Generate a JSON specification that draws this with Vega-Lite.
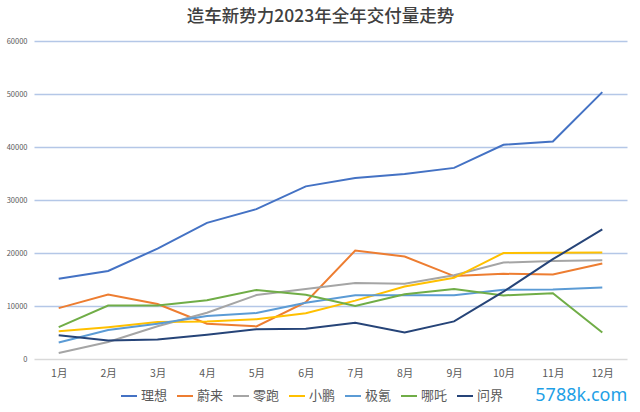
{
  "$schema": "https://vega.github.io/schema/vega-lite/v6.json",
  "width": 593,
  "height": 318,
  "autosize": {"type": "none"},
  "padding": {"left": 34, "top": 41, "right": 13, "bottom": 53},
  "background": "white",
  "title": {
    "text": "造车新势力2023年全年交付量走势",
    "font": "\"Noto Sans CJK SC\", sans-serif",
    "fontSize": 17.5,
    "fontWeight": 500,
    "color": "#404040",
    "anchor": "middle",
    "dx": -10,
    "offset": 12
  },
  "config": {
    "view": {"stroke": null},
    "font": "\"Noto Sans CJK SC\", sans-serif"
  },
  "layer": [
    {
      "data": {
        "values": [
          {"month": "1月", "brand": "理想", "value": 15141}, {"month": "2月", "brand": "理想", "value": 16620}, {"month": "3月", "brand": "理想", "value": 20823}, {"month": "4月", "brand": "理想", "value": 25681}, {"month": "5月", "brand": "理想", "value": 28277}, {"month": "6月", "brand": "理想", "value": 32575}, {"month": "7月", "brand": "理想", "value": 34134}, {"month": "8月", "brand": "理想", "value": 34914}, {"month": "9月", "brand": "理想", "value": 36060}, {"month": "10月", "brand": "理想", "value": 40422}, {"month": "11月", "brand": "理想", "value": 41030}, {"month": "12月", "brand": "理想", "value": 50353},
          {"month": "1月", "brand": "蔚来", "value": 9600}, {"month": "2月", "brand": "蔚来", "value": 12157}, {"month": "3月", "brand": "蔚来", "value": 10378}, {"month": "4月", "brand": "蔚来", "value": 6658}, {"month": "5月", "brand": "蔚来", "value": 6155}, {"month": "6月", "brand": "蔚来", "value": 10707}, {"month": "7月", "brand": "蔚来", "value": 20462}, {"month": "8月", "brand": "蔚来", "value": 19329}, {"month": "9月", "brand": "蔚来", "value": 15641}, {"month": "10月", "brand": "蔚来", "value": 16074}, {"month": "11月", "brand": "蔚来", "value": 15959}, {"month": "12月", "brand": "蔚来", "value": 18012},
          {"month": "1月", "brand": "零跑", "value": 1139}, {"month": "2月", "brand": "零跑", "value": 3198}, {"month": "3月", "brand": "零跑", "value": 6168}, {"month": "4月", "brand": "零跑", "value": 8726}, {"month": "5月", "brand": "零跑", "value": 12058}, {"month": "6月", "brand": "零跑", "value": 13209}, {"month": "7月", "brand": "零跑", "value": 14335}, {"month": "8月", "brand": "零跑", "value": 14190}, {"month": "9月", "brand": "零跑", "value": 15800}, {"month": "10月", "brand": "零跑", "value": 18202}, {"month": "11月", "brand": "零跑", "value": 18508}, {"month": "12月", "brand": "零跑", "value": 18618},
          {"month": "1月", "brand": "小鹏", "value": 5218}, {"month": "2月", "brand": "小鹏", "value": 6010}, {"month": "3月", "brand": "小鹏", "value": 7002}, {"month": "4月", "brand": "小鹏", "value": 7079}, {"month": "5月", "brand": "小鹏", "value": 7506}, {"month": "6月", "brand": "小鹏", "value": 8620}, {"month": "7月", "brand": "小鹏", "value": 11008}, {"month": "8月", "brand": "小鹏", "value": 13690}, {"month": "9月", "brand": "小鹏", "value": 15310}, {"month": "10月", "brand": "小鹏", "value": 20002}, {"month": "11月", "brand": "小鹏", "value": 20041}, {"month": "12月", "brand": "小鹏", "value": 20115},
          {"month": "1月", "brand": "极氪", "value": 3116}, {"month": "2月", "brand": "极氪", "value": 5455}, {"month": "3月", "brand": "极氪", "value": 6663}, {"month": "4月", "brand": "极氪", "value": 8101}, {"month": "5月", "brand": "极氪", "value": 8678}, {"month": "6月", "brand": "极氪", "value": 10620}, {"month": "7月", "brand": "极氪", "value": 12039}, {"month": "8月", "brand": "极氪", "value": 12023}, {"month": "9月", "brand": "极氪", "value": 12011}, {"month": "10月", "brand": "极氪", "value": 13077}, {"month": "11月", "brand": "极氪", "value": 13104}, {"month": "12月", "brand": "极氪", "value": 13476},
          {"month": "1月", "brand": "哪吒", "value": 6016}, {"month": "2月", "brand": "哪吒", "value": 10073}, {"month": "3月", "brand": "哪吒", "value": 10109}, {"month": "4月", "brand": "哪吒", "value": 11080}, {"month": "5月", "brand": "哪吒", "value": 13029}, {"month": "6月", "brand": "哪吒", "value": 12132}, {"month": "7月", "brand": "哪吒", "value": 10017}, {"month": "8月", "brand": "哪吒", "value": 12207}, {"month": "9月", "brand": "哪吒", "value": 13208}, {"month": "10月", "brand": "哪吒", "value": 12000}, {"month": "11月", "brand": "哪吒", "value": 12400}, {"month": "12月", "brand": "哪吒", "value": 5000},
          {"month": "1月", "brand": "问界", "value": 4475}, {"month": "2月", "brand": "问界", "value": 3505}, {"month": "3月", "brand": "问界", "value": 3679}, {"month": "4月", "brand": "问界", "value": 4585}, {"month": "5月", "brand": "问界", "value": 5629}, {"month": "6月", "brand": "问界", "value": 5701}, {"month": "7月", "brand": "问界", "value": 6850}, {"month": "8月", "brand": "问界", "value": 5018}, {"month": "9月", "brand": "问界", "value": 7088}, {"month": "10月", "brand": "问界", "value": 12700}, {"month": "11月", "brand": "问界", "value": 18827}, {"month": "12月", "brand": "问界", "value": 24468}
        ]
      },
      "mark": {"type": "line", "strokeWidth": 2},
      "encoding": {
        "x": {
          "field": "month",
          "type": "ordinal",
          "scale": {"type": "point", "padding": 0.5, "domain": ["1月","2月","3月","4月","5月","6月","7月","8月","9月","10月","11月","12月"]},
          "axis": {
            "title": null,
            "labelAngle": 0,
            "labelFontSize": 10.5,
            "labelColor": "#595959",
            "labelPadding": 9,
            "ticks": false,
            "domain": false,
            "grid": false
          }
        },
        "y": {
          "field": "value",
          "type": "quantitative",
          "scale": {"domain": [0, 60000], "nice": false},
          "axis": {
            "title": null,
            "values": [0, 10000, 20000, 30000, 40000, 50000, 60000],
            "format": "d",
            "labelFontSize": 7.5,
            "labelColor": "#595959",
            "labelPadding": 7,
            "ticks": false,
            "domain": false,
            "gridColor": {"condition": {"test": "datum.value === 0", "value": "#D9D9D9"}, "value": "#B4C7E7"},
            "gridWidth": 1.3
          }
        },
        "color": {
          "field": "brand",
          "type": "nominal",
          "scale": {
            "domain": ["理想","蔚来","零跑","小鹏","极氪","哪吒","问界"],
            "range": ["#4472C4","#ED7D31","#A5A5A5","#FFC000","#5B9BD5","#70AD47","#264478"]
          },
          "legend": {
            "title": null,
            "orient": "none",
            "direction": "horizontal",
            "legendX": 86,
            "legendY": 346,
            "symbolType": "stroke",
            "symbolSize": 256,
            "symbolStrokeWidth": 2,
            "labelFontSize": 13,
            "labelColor": "#595959",
            "labelOffset": 3,
            "columnPadding": 5
          }
        }
      }
    },
    {
      "data": {"values": [{"month": "12月", "label": "5788k.com", "pos": -7000}]},
      "mark": {"type": "text", "fontSize": 18, "color": "#1E9FE6", "font": "Noto Sans", "dx": -21},
      "encoding": {
        "x": {"field": "month", "type": "ordinal"},
        "y": {"field": "pos", "type": "quantitative"},
        "text": {"field": "label"}
      }
    }
  ]
}
